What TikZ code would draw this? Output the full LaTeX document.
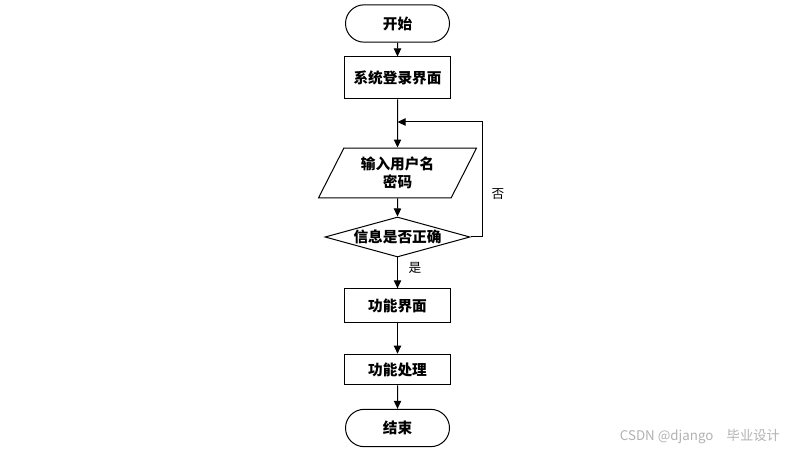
\documentclass[tikz,border=0pt]{standalone}
\usepackage{fontspec}
\setmainfont{Noto Sans CJK SC}
\usetikzlibrary{arrows.meta,shapes.geometric,shapes.misc}
\tikzset{
  base/.style={draw,line width=0.75pt,align=center,inner sep=1pt,
    font=\bfseries\fontsize{11}{14}\selectfont},
  term/.style={base,rounded rectangle,minimum width=80pt,minimum height=28pt},
  proc/.style={base,rectangle,minimum width=80pt},
  io/.style={base,trapezium,trapezium left angle=63,trapezium right angle=117,
    minimum width=119pt,minimum height=31.5pt},
  test/.style={base,diamond,aspect=3.6,inner sep=0pt,minimum width=108.75pt,minimum height=30pt},
  flow/.style={line width=0.75pt,-{Triangle[length=6pt,width=5.5pt]}},
  lbl/.style={font=\fontsize{9.5}{11}\selectfont},
}

\begin{document}
\begin{tikzpicture}[x=0.75pt,y=-0.75pt]
  \useasboundingbox (0,0) rectangle (789,452);
  % nodes
  \node[term] (start) at (397.5,23.5) {开始};
  \node[proc,minimum height=31.5pt] (login) at (397.5,78) {系统登录界面};
  \node[io] (input) at (397.5,173) {输入用户名\\密码};
  \node[test] (chk) at (397.5,237) {信息是否正确};
  \node[proc,minimum height=25pt] (func) at (397.5,305.5) {功能界面};
  \node[proc,minimum height=23pt] (work) at (397.5,369.5) {功能处理};
  \node[term] (stop) at (397.5,428) {结束};
  \coordinate (merge) at (397.5,122);
  \coordinate (back) at (482,122);
  % connectors
  \draw[flow] (start) -- (login);
  \draw[flow] (login) -- (input);
  \draw[flow] (input) -- (chk);
  \draw[flow] (chk) -- (func);
  \draw[flow] (func) -- (work);
  \draw[flow] (work) -- (stop);
  \draw[flow] (chk.east) -| (back) -- (merge);
  \node[lbl] (no) at (498,194) {否};
  \node[lbl] (yes) at (415,268) {是};
  \node[font=\fontsize{10}{12}\selectfont,text=black!30] (mark) at (700,437) {CSDN @django\quad 毕业设计};
\end{tikzpicture}
\end{document}
